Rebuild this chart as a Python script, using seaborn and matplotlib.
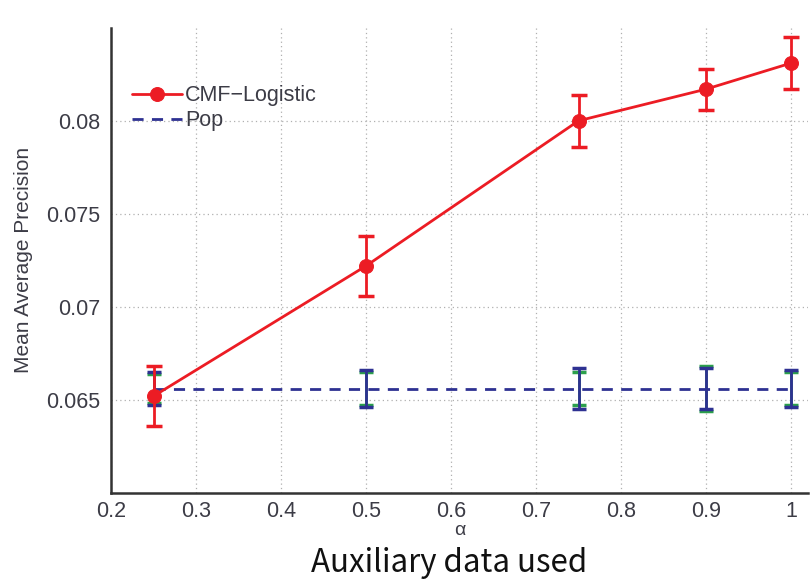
import matplotlib
matplotlib.use("Agg")
import matplotlib.pyplot as plt
import seaborn as sns
import pandas as pd

alpha = [0.25, 0.5, 0.75, 0.9, 1.0]
cmf_mean = [0.0652, 0.0722, 0.0800, 0.0817, 0.0831]
cmf_err = [0.0016, 0.0016, 0.0014, 0.0011, 0.0014]
pop_mean = [0.0656, 0.0656, 0.0656, 0.0656, 0.0656]
pop_err = [0.0009, 0.0010, 0.0011, 0.0011, 0.0010]
pop_err_green = [0.0008, 0.0009, 0.0009, 0.0012, 0.0009]
xticks = [0.2, 0.3, 0.4, 0.5, 0.6, 0.7, 0.8, 0.9, 1.0]
xtick_labels = ["0.2", "0.3", "0.4", "0.5", "0.6", "0.7", "0.8", "0.9", "1"]
yticks = [0.065, 0.07, 0.075, 0.08]
ytick_labels = ["0.065", "0.07", "0.075", "0.08"]

sns.set_theme(style="white")
plt.rcParams['font.family'] = ['Liberation Sans', 'DejaVu Sans']

RED = "#ec1c24"
BLUE = "#2e3192"
GREEN = "#2ca04c"
TXT = "#3c3c46"

df = pd.DataFrame({"alpha": alpha, "cmf": cmf_mean, "pop": pop_mean})

fig = plt.figure(figsize=(8.12, 5.79), dpi=100)
ax = fig.add_axes([0.137, 0.149, 0.858, 0.803])

ax.set_xlim(0.2, 1.02)
ax.set_ylim(0.06, 0.085)
ax.grid(True, linestyle=(0, (1, 2.5)), color="#b0b0b0", linewidth=0.9)

# green error bars (behind)
ax.errorbar(alpha, pop_mean, yerr=pop_err_green, fmt="none", ecolor=GREEN,
            elinewidth=2, capsize=5, capthick=2.5, zorder=2)
ax.errorbar(alpha, pop_mean, yerr=pop_err, fmt="none", ecolor=BLUE,
            elinewidth=2, capsize=5, capthick=2.5, zorder=3)
sns.lineplot(data=df, x="alpha", y="pop", ax=ax, color=BLUE, linestyle=(0, (4, 3)),
             linewidth=2, label="Pop", zorder=3)

ax.errorbar(alpha, cmf_mean, yerr=cmf_err, fmt="none", ecolor=RED,
            elinewidth=2, capsize=6, capthick=2.5, zorder=4)
sns.lineplot(data=df, x="alpha", y="cmf", ax=ax, color=RED, marker="o",
             markersize=10, markeredgecolor=RED, linewidth=2.0,
             label="CMF\u2212Logistic", zorder=5)

ax.set_xticks(xticks)
ax.set_xticklabels(xtick_labels)
ax.set_yticks(yticks)
ax.set_yticklabels(ytick_labels)
ax.tick_params(axis="x", direction="in", length=5, width=1.2, colors="#333333",
               labelsize=15.5, labelcolor=TXT, pad=6)
ax.tick_params(axis="y", direction="out", length=5, width=1.2, colors="#333333",
               labelsize=15.5, labelcolor=TXT, pad=3)

for s in ["top", "right"]:
    ax.spines[s].set_visible(False)
for s in ["left", "bottom"]:
    ax.spines[s].set_color("#333333")
    ax.spines[s].set_linewidth(1.8)

ax.set_xlabel("\u03b1", fontsize=14, color=TXT, labelpad=0)
ax.set_ylabel("Mean Average Precision", fontsize=15, color=TXT)
ax.yaxis.set_label_coords(-0.112, 0.5)

handles, labels = ax.get_legend_handles_labels()
order = [labels.index("CMF\u2212Logistic"), labels.index("Pop")]
ax.legend([handles[i] for i in order], [labels[i] for i in order],
          loc="center left", bbox_to_anchor=(0.03, 0.827), frameon=False,
          fontsize=15.5, handlelength=2.3, handletextpad=0.15, labelspacing=0.2,
          borderpad=0, borderaxespad=0, labelcolor=TXT)

fig.text(0.553, 0.0, "Auxiliary data used", ha="center", va="bottom", fontsize=22.5,
         family=["Noto Sans CJK SC", "DejaVu Sans"], fontweight="light", color="#111111")

fig.savefig("out.png", dpi=100)
